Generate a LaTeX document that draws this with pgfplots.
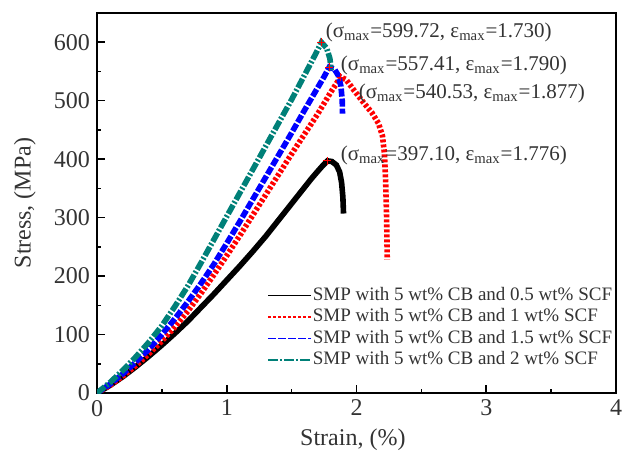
\documentclass[border=0pt]{standalone}
\usepackage{fontspec}
\setmainfont{Liberation Serif}
\usepackage{pgfplots}
\pgfplotsset{compat=1.18}
\definecolor{tealc}{RGB}{0,128,120}

\begin{document}
\begin{tikzpicture}
\begin{axis}[
  scale only axis,
  width=259.5pt, height=190pt,
  xmin=0, xmax=4, ymin=0, ymax=650,
  xtick={0,1,2,3,4}, ytick={0,100,...,600},
  minor x tick num=1, minor y tick num=1,
  tick align=inside,
  xtick pos=bottom, ytick pos=left,
  major tick length=4pt, minor tick length=2pt,
  axis line style={line width=1pt},
  every tick/.style={black, line width=0.8pt},
  /pgf/number format/assume math mode=true,
  tick label style={font=\fontsize{12}{14}\selectfont, text=black!80},
  label style={font=\fontsize{12}{14}\selectfont, text=black!80},
  xlabel={Strain, (\%)},
  ylabel={Stress, (MPa)},
  xlabel style={at={(axis description cs:0.493,-0.124)}, anchor=center},
  ylabel style={at={(axis description cs:-0.139,0.5)}, anchor=center},
  legend style={draw=none, fill=none, at={(0.328,0.284)}, anchor=north west,
    inner sep=0pt, row sep=0.75pt,
    font=\fontsize{9.5}{11}\selectfont, text=black!80,
    nodes={inner sep=0.5pt, text height=7pt, text depth=2pt}},
  legend cell align=left,
  legend image code/.code={\draw[#1, line width=0.6pt] (0pt,0pt) -- (21.5pt,0pt);},
]
% 0.5 wt% SCF
\addplot[black, line width=2.8pt] coordinates {
(0,0) (0.1,13) (0.2,28) (0.3,45) (0.4,63) (0.5,82) (0.6,102) (0.7,123)
(0.8,146) (0.9,169) (1.0,193) (1.1,217) (1.2,242) (1.3,268) (1.4,296)
(1.5,324) (1.6,352) (1.65,366) (1.7,379) (1.74,389) (1.776,397.1)
(1.81,396) (1.845,390) (1.87,378) (1.885,360) (1.895,335) (1.9,307)
};
% 1 wt% SCF
\addplot[red, line width=2.8pt, dash pattern=on 1.5pt off 1pt] coordinates {
(0,0) (0.1,13) (0.2,29) (0.3,47) (0.4,67) (0.5,89) (0.6,113) (0.7,140)
(0.8,170) (0.9,202) (1.0,235) (1.1,269) (1.2,304) (1.3,339) (1.4,374)
(1.5,409) (1.6,443) (1.7,477) (1.8,514) (1.85,531) (1.877,540.53)
(1.92,536) (1.98,518) (2.05,498) (2.12,479) (2.17,461) (2.2,440)
(2.215,410) (2.225,360) (2.232,300) (2.237,228)
};
% 1.5 wt% SCF
\addplot[blue, line width=2.8pt, dash pattern=on 4pt off 1pt] coordinates {
(0,0) (0.1,15) (0.2,33) (0.3,53) (0.4,75) (0.5,100) (0.6,127) (0.7,156)
(0.8,187) (0.9,220) (1.0,256) (1.1,293) (1.2,331) (1.3,369) (1.4,407)
(1.5,445) (1.6,484) (1.65,503) (1.7,522) (1.75,541) (1.79,557.41)
(1.83,554) (1.86,543) (1.88,525) (1.89,500) (1.892,478)
};
% 2 wt% SCF
\addplot[tealc, line width=2.8pt, dash pattern=on 5pt off 1pt on 1pt off 1pt] coordinates {
(0,0) (0.1,18) (0.2,39) (0.3,62) (0.4,87) (0.5,115) (0.6,148) (0.7,183)
(0.8,222) (0.9,262) (1.0,302) (1.1,342) (1.2,382) (1.3,422) (1.4,462)
(1.5,502) (1.6,544) (1.68,578) (1.73,599.72) (1.77,590) (1.795,572)
(1.805,552)
};
\legend{SMP with 5 wt\% CB and 0.5 wt\% SCF,
        SMP with 5 wt\% CB and 1 wt\% SCF,
        SMP with 5 wt\% CB and 1.5 wt\% SCF,
        SMP with 5 wt\% CB and 2 wt\% SCF}
% peak markers
\addplot[only marks, mark=+, red, mark size=2pt, mark options={line width=0.5pt}, forget plot]
  coordinates {(1.73,599.72) (1.79,557.41) (1.877,540.53) (1.776,397.1)};
\begin{scope}[every node/.style={anchor=west, inner sep=0pt, font=\fontsize{10.5}{12}\selectfont, text=black!80}]
\node at (axis cs:1.76,617) {(σ\textsubscript{max}=599.72, ε\textsubscript{max}=1.730)};
\node at (axis cs:1.877,561) {(σ\textsubscript{max}=557.41, ε\textsubscript{max}=1.790)};
\node at (axis cs:2.015,513) {(σ\textsubscript{max}=540.53, ε\textsubscript{max}=1.877)};
\node at (axis cs:1.876,407) {(σ\textsubscript{max}=397.10, ε\textsubscript{max}=1.776)};
\end{scope}
\end{axis}
\pgfresetboundingbox
\path[use as bounding box] ([shift={(-48.5pt,-30.5pt)}]current axis.south west)
  rectangle ([shift={(3.5pt,6.5pt)}]current axis.north east);
\end{tikzpicture}
\end{document}
